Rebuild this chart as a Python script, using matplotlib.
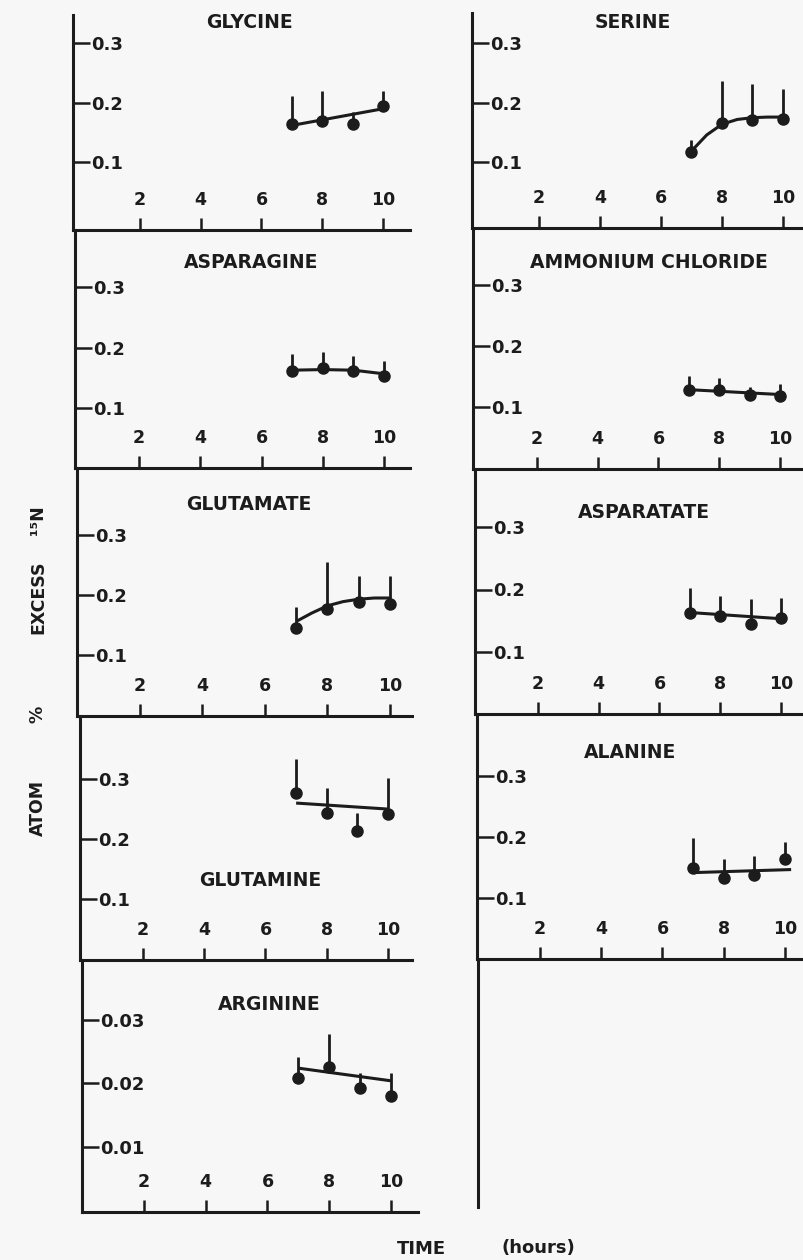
import matplotlib
matplotlib.use("Agg")
import matplotlib.pyplot as plt

W, H = 804, 1260
INK = "#1c1c1c"

hours = [7, 8, 9, 10]

# mean values and top of the (one-sided) error bars
glycine_mean = [0.164, 0.170, 0.164, 0.195]
glycine_top = [0.211, 0.220, 0.185, 0.220]
glycine_fit_x = [7, 10]
glycine_fit_y = [0.162, 0.190]

serine_mean = [0.117, 0.166, 0.171, 0.172]
serine_top = [0.138, 0.236, 0.232, 0.223]
serine_fit_x = [7, 7.5, 8, 8.5, 9, 9.5, 10]
serine_fit_y = [0.119, 0.146, 0.164, 0.172, 0.175, 0.176, 0.176]

asparagine_mean = [0.161, 0.167, 0.161, 0.154]
asparagine_top = [0.189, 0.193, 0.186, 0.178]
asparagine_fit_x = [7, 8, 9, 10]
asparagine_fit_y = [0.163, 0.164, 0.163, 0.157]

ammonium_mean = [0.128, 0.127, 0.119, 0.117]
ammonium_top = [0.150, 0.147, 0.132, 0.138]
ammonium_fit_x = [7, 10]
ammonium_fit_y = [0.128, 0.120]

glutamate_mean = [0.145, 0.176, 0.189, 0.185]
glutamate_top = [0.180, 0.255, 0.232, 0.231]
glutamate_fit_x = [7, 7.5, 8, 8.5, 9, 9.5, 10]
glutamate_fit_y = [0.156, 0.170, 0.182, 0.189, 0.193, 0.195, 0.195]

asparatate_mean = [0.162, 0.158, 0.145, 0.154]
asparatate_top = [0.203, 0.190, 0.184, 0.186]
asparatate_fit_x = [7, 10]
asparatate_fit_y = [0.163, 0.153]

glutamine_mean = [0.277, 0.244, 0.214, 0.242]
glutamine_top = [0.334, 0.285, 0.243, 0.301]
glutamine_fit_x = [7, 10]
glutamine_fit_y = [0.260, 0.250]

alanine_mean = [0.149, 0.133, 0.138, 0.164]
alanine_top = [0.199, 0.164, 0.169, 0.192]
alanine_fit_x = [7, 10.2]
alanine_fit_y = [0.142, 0.147]

arginine_mean = [0.0209, 0.0226, 0.0192, 0.0180]
arginine_top = [0.0241, 0.0278, 0.0216, 0.0217]
arginine_fit_x = [7, 10]
arginine_fit_y = [0.0224, 0.0204]

x_ticks = [2, 4, 6, 8, 10]
y_ticks = [0.1, 0.2, 0.3]
y_labels = ["0.1", "0.2", "0.3"]
arg_ticks = [0.01, 0.02, 0.03]
arg_labels = ["0.01", "0.02", "0.03"]

fig = plt.figure(figsize=(W / 100, H / 100), dpi=100)
fig.patch.set_facecolor("#f7f7f7")


def add_panel(left, right, top, base, px2, px10, py_lo, py_hi, v_lo, v_hi):
    """Axes placed in pixel coords; scales come from where ticks sit in the scan."""
    ax = fig.add_axes([left / W, 1 - base / H, (right - left) / W, (base - top) / H])
    ax.set_facecolor("none")
    sx = (px10 - px2) / 8.0
    ax.set_xlim(2 - (px2 - left) / sx, 10 + (right - px10) / sx)
    sy = (py_lo - py_hi) / (v_hi - v_lo)
    ax.set_ylim(v_lo - (base - py_lo) / sy, v_hi + (py_hi - top) / sy)
    for s in ["top", "right"]:
        ax.spines[s].set_visible(False)
    for s in ["left", "bottom"]:
        ax.spines[s].set_linewidth(2.2)
        ax.spines[s].set_color(INK)
    ax.tick_params(axis="x", direction="in", length=9, width=1.8, pad=-18,
                   labelsize=12.5, colors=INK)
    ax.tick_params(axis="y", direction="in", length=12, width=1.8, pad=-13,
                   labelsize=13, colors=INK)
    return ax


def draw(ax, mean, top, fx, fy, yt, yl):
    ax.set_xticks(x_ticks, [str(t) for t in x_ticks])
    ax.set_yticks(yt, yl)
    for t in ax.get_xticklabels():
        t.set_verticalalignment("baseline")
        t.set_fontweight("heavy")
    for t in ax.get_yticklabels():
        t.set_horizontalalignment("left")
        t.set_fontweight("heavy")
    ax.vlines(hours, mean, top, colors=INK, lw=2.0)
    ax.plot(fx, fy, color=INK, lw=2.2, solid_capstyle="butt")
    ax.plot(hours, mean, "o", ms=8, color=INK)


# left column
ax = add_panel(73, 410, 15, 230, 140, 383, 162.3, 43.3, 0.1, 0.3)
draw(ax, glycine_mean, glycine_top, glycine_fit_x, glycine_fit_y, y_ticks, y_labels)
ax = add_panel(75, 410, 230, 468, 139, 384, 408.3, 287.3, 0.1, 0.3)
draw(ax, asparagine_mean, asparagine_top, asparagine_fit_x, asparagine_fit_y, y_ticks, y_labels)
ax = add_panel(77, 412, 468, 716, 140, 390, 655, 535, 0.1, 0.3)
draw(ax, glutamate_mean, glutamate_top, glutamate_fit_x, glutamate_fit_y, y_ticks, y_labels)
ax = add_panel(80, 412, 716, 960, 143, 388, 899.3, 779, 0.1, 0.3)
draw(ax, glutamine_mean, glutamine_top, glutamine_fit_x, glutamine_fit_y, y_ticks, y_labels)
ax = add_panel(82, 418, 960, 1212, 144, 391, 1146.7, 1020, 0.01, 0.03)
draw(ax, arginine_mean, arginine_top, arginine_fit_x, arginine_fit_y, arg_ticks, arg_labels)

# right column
ax = add_panel(472, 804, 13, 228, 539, 783, 162.3, 43.3, 0.1, 0.3)
draw(ax, serine_mean, serine_top, serine_fit_x, serine_fit_y, y_ticks, y_labels)
ax = add_panel(473, 804, 228, 469, 537, 780, 406.7, 285, 0.1, 0.3)
draw(ax, ammonium_mean, ammonium_top, ammonium_fit_x, ammonium_fit_y, y_ticks, y_labels)
ax = add_panel(475, 804, 469, 714, 538, 781, 651.7, 527.3, 0.1, 0.3)
draw(ax, asparatate_mean, asparatate_top, asparatate_fit_x, asparatate_fit_y, y_ticks, y_labels)
ax = add_panel(477, 804, 714, 959, 540, 785, 898.3, 776, 0.1, 0.3)
draw(ax, alanine_mean, alanine_top, alanine_fit_x, alanine_fit_y, y_ticks, y_labels)

# empty slot below alanine: only the vertical axis line continues
ax = fig.add_axes([478 / W, 1 - 1207 / H, 300 / W, (1207 - 959) / H])
ax.set_facecolor("none")
for s in ["top", "right", "bottom"]:
    ax.spines[s].set_visible(False)
ax.spines["left"].set_linewidth(2.2)
ax.spines["left"].set_color(INK)
ax.set_xticks([])
ax.set_yticks([])

# panel names
titles = [("GLYCINE", 249, 22), ("SERINE", 633, 22),
          ("ASPARAGINE", 251, 263), ("AMMONIUM CHLORIDE", 649, 263),
          ("GLUTAMATE", 249, 505), ("ASPARATATE", 644, 512),
          ("GLUTAMINE", 260, 880), ("ALANINE", 630, 752),
          ("ARGININE", 269, 1005)]
for name, x, y in titles:
    fig.text(x / W, 1 - y / H, name, ha="center", va="center",
             fontsize=13.5, fontweight="heavy", color=INK)

# axis captions
for word, y in [("ATOM", 808), ("%", 714), ("EXCESS", 597), ("¹⁵N", 520)]:
    fig.text(38 / W, 1 - y / H, word, rotation=90, ha="center", va="center",
             fontsize=12.5, fontweight="heavy", color=INK)
fig.text(421 / W, 1 - 1249 / H, "TIME", ha="center", va="center",
         fontsize=13, fontweight="heavy", color=INK)
fig.text(538 / W, 1 - 1248 / H, "(hours)", ha="center", va="center",
         fontsize=13, fontweight="heavy", color=INK)

fig.savefig("out.png", dpi=100, facecolor=fig.get_facecolor())
